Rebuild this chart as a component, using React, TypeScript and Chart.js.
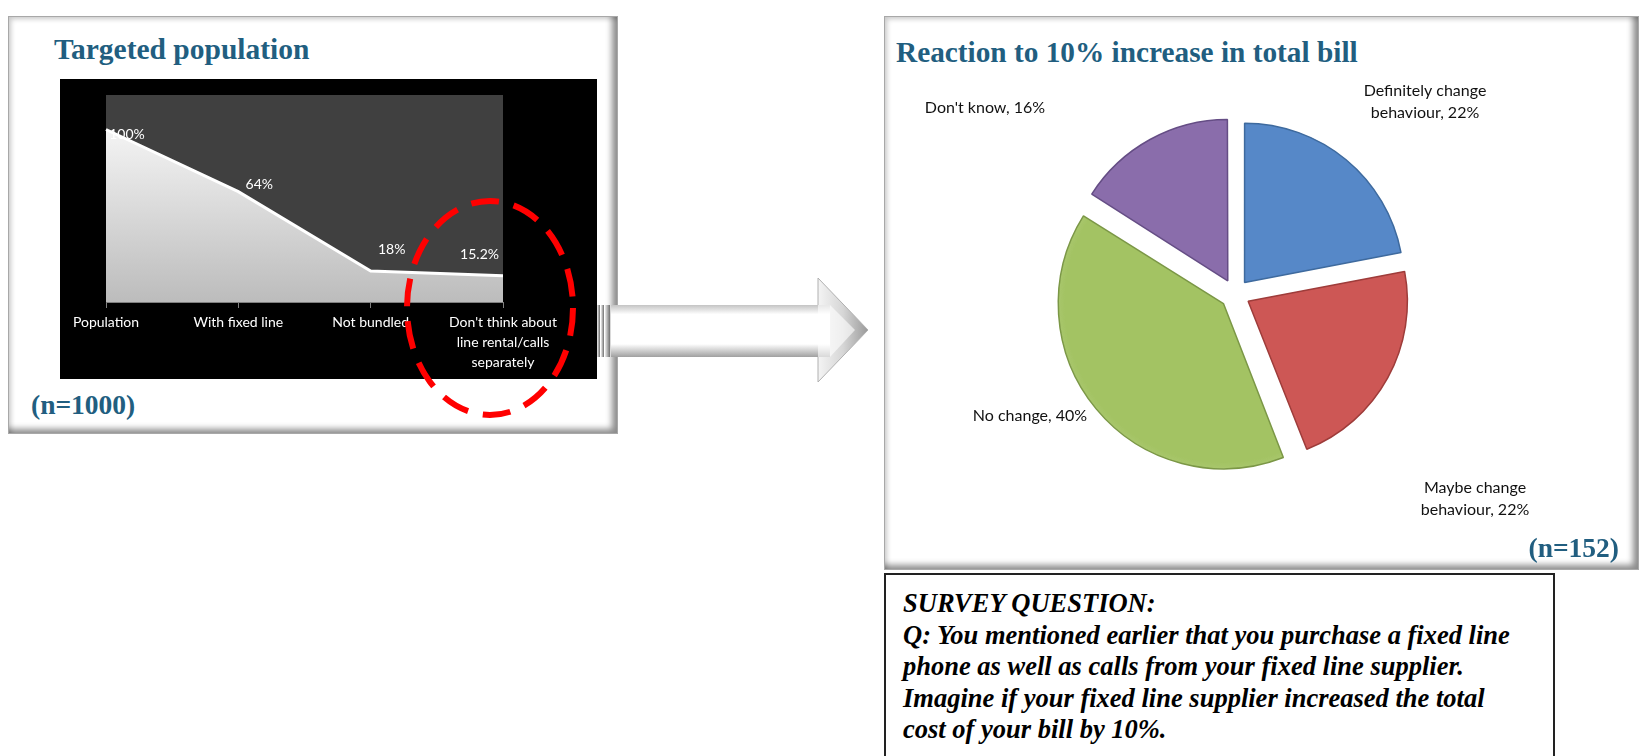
import React, { useEffect, useRef } from "react";
import { Chart, registerables } from "chart.js";
Chart.register(...registerables);

// ---------- data ----------
const popCategories: (string | string[])[] = [
  "Population",
  "With fixed line",
  "Not bundled",
  ["Don't think about", "line rental/calls", "separately"],
];
const popValues = [100, 64, 18, 15.2];
const popValueLabels = ["100%", "64%", "18%", "15.2%"];
const popAxisMax = 120;

const pieCategories = ["Definitely change behaviour", "Maybe change behaviour", "No change", "Don't know"];
const pieValues = [22, 22, 40, 16];
const pieLabelLines = [
  ["Definitely change", "behaviour, 22%"],
  ["Maybe change", "behaviour, 22%"],
  ["No change, 40%"],
  ["Don't know, 16%"],
];
const pieColors = ["#5688C8", "#CD5755", "#A3C363", "#8A6DAB"];
const pieBorders = ["#3E6A9E", "#9E3C3A", "#7B9746", "#654D85"];

const surveyLines = [
  "SURVEY QUESTION:",
  "Q: You mentioned earlier that you purchase a fixed line",
  "phone as well as calls from your fixed line supplier.",
  "Imagine if your fixed line supplier increased the total",
  "cost of your bill by 10%.",
];

// ---------- layout (not data) ----------
const TITLE_COLOR = "#215E80";
const pieLabelOffsets = [
  [190, -192],
  [240, 205],
  [-205, 122],
  [-250, -186],
];

const popPlugin = {
  id: "popDecor",
  beforeDraw(chart: any) {
    const { ctx, chartArea: a, width, height } = chart;
    ctx.save();
    ctx.fillStyle = "#000";
    ctx.fillRect(0, 0, width, height);
    ctx.fillStyle = "#404040";
    ctx.fillRect(a.left, a.top, a.right - a.left, a.bottom - a.top);
    ctx.restore();
  },
  afterDatasetsDraw(chart: any) {
    const { ctx, chartArea: a } = chart;
    const meta = chart.getDatasetMeta(0);
    ctx.save();
    ctx.font = "14px Lato";
    ctx.fillStyle = "#fff";
    ctx.textBaseline = "middle";
    ctx.textAlign = "center";
    meta.data.forEach((pt: any, i: number) => {
      const t = popValueLabels[i];
      const w = ctx.measureText(t).width;
      const dy = i === 0 ? 5 : i === 1 ? -7 : -21;
      let x = pt.x + 21;
      x = Math.max(a.left + w / 2 + 2, Math.min(a.right - w / 2 - 4, x));
      ctx.fillText(t, x, pt.y + dy);
    });
    ctx.restore();
  },
};

const piePlugin = {
  id: "pieLabels",
  afterDraw(chart: any) {
    const { ctx } = chart;
    const meta = chart.getDatasetMeta(0);
    const el = meta.data[0];
    if (!el) return;
    const cx = el.x;
    const cy = el.y;
    ctx.save();
    ctx.font = "16px Lato";
    ctx.fillStyle = "#111";
    ctx.textAlign = "center";
    ctx.textBaseline = "middle";
    pieLabelLines.forEach((lines, i) => {
      const [ox, oy] = pieLabelOffsets[i];
      const lh = 22;
      const y0 = cy + oy - ((lines.length - 1) * lh) / 2;
      lines.forEach((ln, j) => ctx.fillText(ln, cx + ox, y0 + j * lh));
    });
    ctx.restore();
  },
};

function PopChart() {
  const ref = useRef<HTMLCanvasElement>(null);
  useEffect(() => {
    const chart = new Chart(ref.current!, {
      type: "line",
      data: {
        labels: popCategories as any,
        datasets: [
          {
            data: popValues,
            fill: "origin",
            borderColor: "#ffffff",
            borderWidth: 3,
            pointRadius: 0,
            tension: 0,
            backgroundColor: (c: any) => {
              const a = c.chart.chartArea;
              if (!a) return "#dddddd";
              const g = c.chart.ctx.createLinearGradient(0, a.top, 0, a.bottom);
              g.addColorStop(0, "#ffffff");
              g.addColorStop(1, "#bcbcbc");
              return g;
            },
          },
        ],
      },
      options: {
        animation: false,
        responsive: false,
        layout: { padding: { left: 46, right: 94, top: 16, bottom: 0 } },
        plugins: { legend: { display: false }, tooltip: { enabled: false } },
        scales: {
          x: {
            offset: false,
            grid: { display: true, drawOnChartArea: false, drawTicks: true, tickLength: 6, color: "#808080" },
            border: { display: true, color: "#808080" },
            ticks: {
              color: "#ffffff",
              font: { family: "Lato", size: 14, lineHeight: 1.42 },
              maxRotation: 0,
              autoSkip: false,
              padding: 5,
            },
            afterFit: (s: any) => {
              s.height = 77;
            },
          },
          y: { display: false, min: 0, max: popAxisMax },
        },
      },
      plugins: [popPlugin],
    });
    return () => chart.destroy();
  }, []);
  return (
    <canvas
      ref={ref}
      width={537}
      height={300}
      style={{ position: "absolute", left: 60, top: 79, width: 537, height: 300 }}
    />
  );
}

function PieChart() {
  const ref = useRef<HTMLCanvasElement>(null);
  useEffect(() => {
    const chart = new Chart(ref.current!, {
      type: "pie",
      data: {
        labels: pieCategories,
        datasets: [
          {
            data: pieValues,
            backgroundColor: (c: any) => {
              const i = c.dataIndex;
              const a = c.chart.chartArea;
              if (!a || i === undefined) return pieColors[i ?? 0];
              const cx = (a.left + a.right) / 2;
              const cy = (a.top + a.bottom) / 2;
              const g = c.chart.ctx.createRadialGradient(cx, cy, 0, cx, cy, 189);
              g.addColorStop(0, pieColors[i]);
              g.addColorStop(0.84, pieColors[i]);
              g.addColorStop(0.92, pieColors[i] + "dd");
              g.addColorStop(1, pieBorders[i]);
              return g;
            },
            borderColor: pieBorders,
            borderWidth: 1.5,
            offset: 60,
          } as any,
        ],
      },
      options: {
        animation: false,
        responsive: false,
        radius: 159,
        plugins: { legend: { display: false }, tooltip: { enabled: false } },
      } as any,
      plugins: [piePlugin],
    });
    return () => chart.destroy();
  }, []);
  return (
    <canvas
      ref={ref}
      width={680}
      height={480}
      style={{ position: "absolute", left: 895, top: 54, width: 680, height: 480 }}
    />
  );
}

const frame = (l: number, t: number, w: number, h: number): React.CSSProperties => ({
  position: "absolute",
  left: l,
  top: t,
  width: w,
  height: h,
  boxSizing: "border-box",
  background: "#fff",
  border: "1px solid #a8a8a8",
  boxShadow:
    "inset -8px -7px 6px -3px rgba(0,0,0,0.45), inset 5px 5px 5px -3px rgba(0,0,0,0.22)",
});

const titleStyle = (l: number, t: number, size: number): React.CSSProperties => ({
  position: "absolute",
  left: l,
  top: t,
  fontFamily: "'Liberation Serif', serif",
  fontWeight: "bold",
  fontSize: size,
  lineHeight: "30px",
  color: TITLE_COLOR,
  whiteSpace: "nowrap",
});

export default function App() {
  return (
    <div
      style={{
        position: "fixed",
        left: 0,
        top: 0,
        width: 1640,
        height: 756,
        overflow: "hidden",
        background: "#fff",
      }}
    >
      <div style={frame(8, 16, 610, 418)} />
      <div style={titleStyle(54, 34, 29.5)}>Targeted population</div>
      <div style={{ position: "absolute", left: 60, top: 79, width: 537, height: 300, background: "#000" }} />
      <PopChart />
      <div style={titleStyle(31, 390, 27.5)}>(n=1000)</div>

      <div style={frame(884, 16, 755, 554)} />
      <div style={titleStyle(896, 37, 29.3)}>Reaction to 10% increase in total bill</div>
      <PieChart />
      <div style={{ ...titleStyle(0, 533, 27.5), left: "auto", right: 21 }}>(n=152)</div>

      <div
        style={{
          position: "absolute",
          left: 884,
          top: 573,
          width: 671,
          height: 220,
          boxSizing: "border-box",
          border: "2px solid #222",
          background: "#fff",
          paddingLeft: 17,
          paddingTop: 13,
          fontFamily: "'Liberation Serif', serif",
          fontWeight: "bold",
          fontStyle: "italic",
          fontSize: 26.5,
          lineHeight: "31.5px",
          color: "#000",
          whiteSpace: "nowrap",
        }}
      >
        {surveyLines.map((l, i) => (
          <div key={i}>{l}</div>
        ))}
      </div>

      <svg
        width={1640}
        height={756}
        style={{ position: "absolute", left: 0, top: 0, pointerEvents: "none" }}
      >
        <defs>
          <linearGradient id="shaft" x1="0" y1="0" x2="0" y2="1">
            <stop offset="0" stopColor="#c4c4c4" />
            <stop offset="0.18" stopColor="#ffffff" />
            <stop offset="0.75" stopColor="#ffffff" />
            <stop offset="1" stopColor="#a0a0a0" />
          </linearGradient>
          <linearGradient id="head" x1="0" y1="0" x2="1" y2="0">
            <stop offset="0" stopColor="#f4f4f4" />
            <stop offset="0.5" stopColor="#d6d6d6" />
            <stop offset="1" stopColor="#9a9a9a" />
          </linearGradient>
          <linearGradient id="bar" x1="0" y1="0" x2="1" y2="0">
            <stop offset="0" stopColor="#eeeeee" />
            <stop offset="1" stopColor="#6e6e6e" />
          </linearGradient>
        </defs>
        <rect x={597} y={305} width={3} height={52} fill="url(#bar)" />
        <rect x={601} y={305} width={3} height={52} fill="url(#bar)" />
        <rect x={605} y={305} width={5} height={52} fill="url(#bar)" />
        <polygon
          points="818,278 868,330 818,382"
          fill="url(#head)"
          stroke="#b0b0b0"
          strokeWidth={1}
        />
        <polygon points="611,305 830,305 830,357 611,357" fill="url(#shaft)" />
        <polygon points="818,305 830,305 855,330 830,357 818,357" fill="#ffffff" opacity={0.6} />
        <ellipse
          cx={490}
          cy={308}
          rx={83}
          ry={107}
          fill="none"
          stroke="#ff0000"
          strokeWidth={6}
          strokeDasharray="28 15"
        />
      </svg>
    </div>
  );
}
